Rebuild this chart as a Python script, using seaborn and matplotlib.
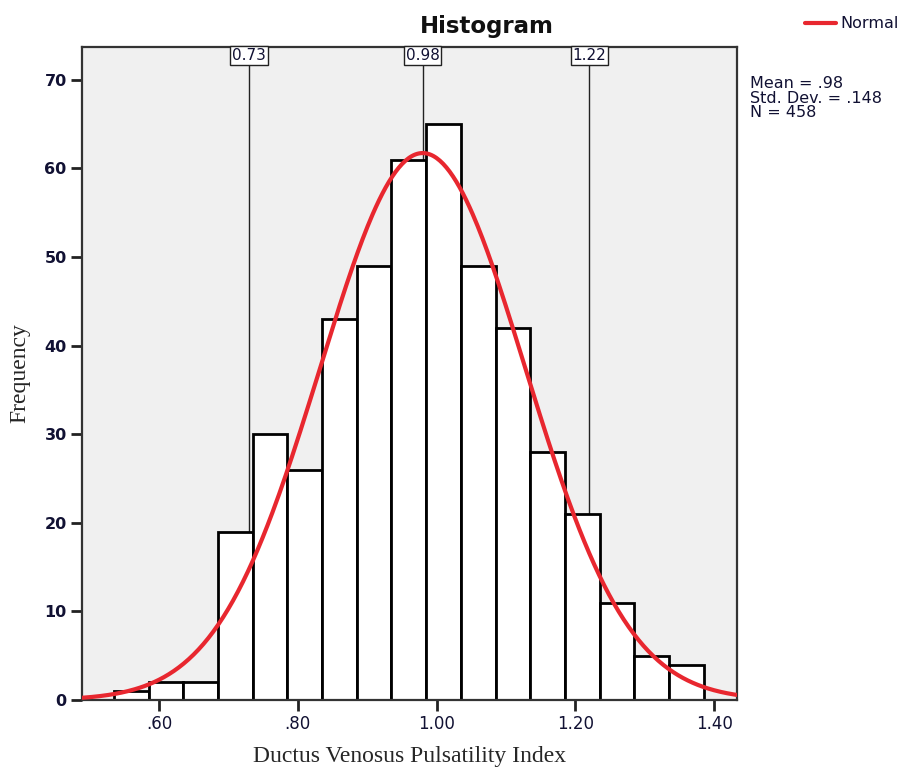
import numpy as np
import pandas as pd
import matplotlib
matplotlib.use("Agg")
import matplotlib.pyplot as plt
import seaborn as sns

# ---- data ----
bin_start = 0.535
bin_width = 0.05
counts = [1, 2, 2, 19, 30, 26, 43, 49, 61, 65, 49, 42, 28, 21, 11, 5, 4]
ref_lines = [0.73, 0.98, 1.22]
ref_labels = ["0.73", "0.98", "1.22"]
mean_val = 0.98
std_val = 0.148
n_total = 458
x_ticks = [0.60, 0.80, 1.00, 1.20, 1.40]
x_tick_labels = [".60", ".80", "1.00", "1.20", "1.40"]
y_ticks = [0, 10, 20, 30, 40, 50, 60, 70]

edges = bin_start + bin_width * np.arange(len(counts) + 1)
centers = (edges[:-1] + edges[1:]) / 2
df = pd.DataFrame({"value": centers, "count": counts})

sns.set_theme(style="white")
plt.rcParams["font.family"] = ["DejaVu Sans"]

fig = plt.figure(figsize=(8.99, 7.68), dpi=100)
ax = fig.add_axes([82 / 899, 68 / 768, (737 - 82) / 899, (700 - 47) / 768])
ax.set_facecolor("#f0f0f0")

xlim = (0.489, 1.433)

# reference lines
for xv, lab in zip(ref_lines, ref_labels):
    ax.axvline(xv, color="#222222", lw=1.0, zorder=1)
    ax.text(xv, 73.55, lab, ha="center", va="top", fontsize=11, color="#111133",
            bbox=dict(boxstyle="square,pad=0.12", fc="white", ec="#222222", lw=1.0),
            zorder=5)

sns.histplot(data=df, x="value", weights="count", bins=edges.tolist(), ax=ax,
             color="white", edgecolor="black", linewidth=2.0, alpha=1.0, zorder=2)

# normal curve from the stated parameters
xs = np.linspace(xlim[0], xlim[1], 400)
ys = n_total * bin_width * np.exp(-0.5 * ((xs - mean_val) / std_val) ** 2) / (std_val * np.sqrt(2 * np.pi))
sns.lineplot(x=xs, y=ys, ax=ax, color="#e8272f", lw=3.0, zorder=4)

ax.set_xlim(*xlim)
ax.set_ylim(0, 73.7)

ax.set_xticks(x_ticks)
ax.set_xticklabels(x_tick_labels, fontsize=12, color="#111133")
ax.set_yticks(y_ticks)
ax.set_yticklabels([str(v) for v in y_ticks], fontsize=11.5, fontweight="bold", color="#111133")
ax.tick_params(axis="both", direction="out", length=8, width=2, color="#222222", pad=3,
               bottom=True, left=True)

for s in ax.spines.values():
    s.set_color("#333333")
    s.set_linewidth(1.6)

ax.set_xlabel("Ductus Venosus Pulsatility Index", family="Liberation Serif", fontsize=17, labelpad=9)
ax.set_ylabel("Frequency", family="Liberation Serif", fontsize=17, labelpad=10)

fig.text(487 / 899, 1 - 26 / 768, "Histogram", ha="center", va="center",
         fontsize=16.5, fontweight="bold", color="#111111")

# legend-like entry
fig.add_artist(plt.Line2D([805 / 899, 836 / 899], [1 - 23 / 768, 1 - 23 / 768],
                          color="#e8272f", lw=3))
fig.text(840 / 899, 1 - 24 / 768, "Normal", ha="left", va="center", fontsize=11.5, color="#111133")

fig.text(750 / 899, 1 - 76 / 768, f"Mean = .98\nStd. Dev. = .148\nN = {n_total}",
         ha="left", va="top", fontsize=11.5, linespacing=0.97, color="#111133")

fig.savefig("out.png", dpi=100)
